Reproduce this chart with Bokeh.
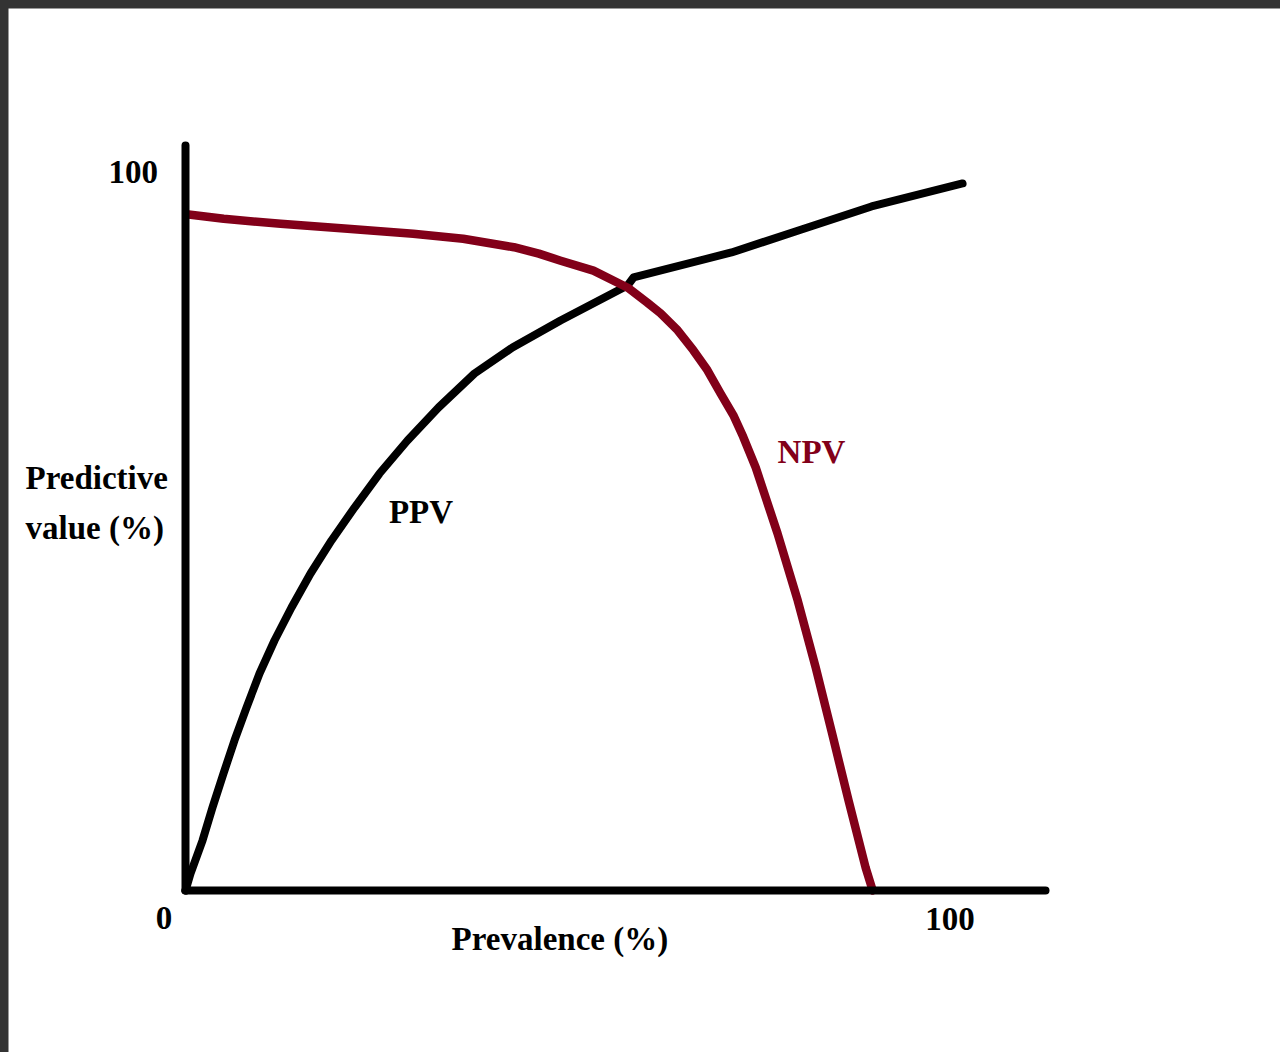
from bokeh.plotting import figure
from bokeh.models import Range1d, Label, FixedTicker, GlobalInlineStyleSheet
from bokeh.embed import file_html
from bokeh.resources import INLINE

# ---- data ----
prevalence_ppv = [0, 0.64, 2.18, 3.46, 4.87, 6.28, 7.82, 9.49, 11.41, 13.59, 16.03,
                  18.72, 21.67, 24.87, 28.46, 32.44, 37.05, 41.92, 48.08, 56.67,
                  57.44, 70.0, 78.97, 87.95, 99.62]
ppv = [0, 2.39, 7.04, 11.69, 16.48, 21.13, 25.77, 30.56, 35.21, 39.86, 44.65,
       49.30, 53.94, 58.73, 63.38, 68.03, 72.82, 76.48, 80.28, 85.21,
       86.34, 89.86, 93.10, 96.34, 99.58]

prevalence_npv = [0.4, 4.9, 12.2, 20.8, 29.2, 35.6, 42.1, 45.3, 48.1, 52.3, 56.7,
                  59.2, 60.9, 63.1, 65.1, 66.9, 68.6, 70.3, 71.5, 73.1, 75.9,
                  78.5, 80.8, 82.9, 85.0, 87.2, 88.1]
npv = [95.2, 94.6, 93.9, 93.2, 92.5, 91.8, 90.6, 89.7, 88.7, 87.3, 84.9,
       82.8, 81.3, 78.9, 76.1, 73.3, 70.0, 66.8, 63.9, 59.6, 50.3,
       40.8, 31.4, 22.1, 12.7, 3.2, 0]

x_tick_labels = ["0", "100"]
y_tick_labels = ["100"]
x_title = "Prevalence (%)"
y_title = ["Predictive", "value (%)"]
series_names = ["PPV", "NPV"]

BLACK = "black"
NPV_COLOR = "#820019"
FONT = "Liberation Serif"

X_AXIS_END = 110.256
Y_AXIS_END = 104.93

p = figure(output_backend="svg", toolbar_location=None,
           width=1272, height=1044, min_border=0,
           x_range=Range1d(-22.692, 140.385), y_range=Range1d(-22.817, 124.225),
           background_fill_color="white", border_fill_color="white",
           outline_line_color=None)
p.grid.visible = False

for ax, end in ((p.xaxis[0], X_AXIS_END), (p.yaxis[0], Y_AXIS_END)):
    ax.fixed_location = 0
    ax.bounds = (0, end)
    ax.ticker = FixedTicker(ticks=[])
    ax.axis_line_width = 8
    ax.axis_line_color = BLACK
    ax.axis_line_cap = "round"
    ax.major_tick_line_color = None
    ax.minor_tick_line_color = None
    ax.major_label_text_font_size = "0px"

p.line(prevalence_ppv, ppv, line_width=8, line_color=BLACK,
       line_cap="round", line_join="round")
p.line(prevalence_npv, npv, line_width=8.5, line_color=NPV_COLOR,
       line_cap="round", line_join="round")

DY = 1.55  # lift so the text sits where the reference text sits

def lab(x, y, text, align="center", color=BLACK):
    p.add_layout(Label(x=x, y=y + DY, text=text, text_align=align,
                       text_baseline="alphabetic", text_font=FONT,
                       text_font_style="bold", text_font_size="33px",
                       text_color=color))

# tick labels
lab(-6.7, 99.6, y_tick_labels[0])
lab(-2.76, -5.49, x_tick_labels[0])
lab(98.0, -5.63, x_tick_labels[1])
# axis titles
lab(48.0, -8.4, x_title)
lab(-20.5, 56.48, y_title[0], align="left")
lab(-20.5, 49.44, y_title[1], align="left")
# series labels
lab(30.19, 51.83, series_names[0])
lab(80.26, 60.28, series_names[1], color=NPV_COLOR)

p.stylesheets = [GlobalInlineStyleSheet(css="""
html { background: #333333; overflow: hidden; }
body { margin: 8px 0 0 8px !important; padding: 0; background: #333333; overflow: hidden; }
""")]

open("out.html", "w").write(file_html(p, INLINE))
